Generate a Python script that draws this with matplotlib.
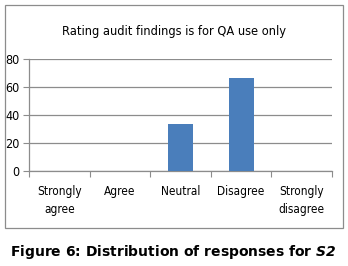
import numpy as np
import matplotlib.pyplot as plt
from matplotlib.patches import Rectangle

categories = ['Strongly\nagree', 'Agree', 'Neutral', 'Disagree', 'Strongly\ndisagree']
values = [0, 0, 33.33, 66.67, 0]
yticks = [0, 20, 40, 60, 80]

W, H = 348, 266
fig = plt.figure(figsize=(W / 100, H / 100), dpi=100)
cond = dict(fontfamily='DejaVu Sans', fontstretch='condensed')

# outer chart frame
fig.patches.append(Rectangle((5 / W, 1 - 228 / H), 338 / W, 223 / H,
                             transform=fig.transFigure, fill=False,
                             edgecolor='#8c8c8c', linewidth=0.9))

ax = fig.add_axes([29 / W, 1 - 171 / H, 303 / W, 112 / H])
x = np.arange(len(categories))
ax.bar(x, values, width=0.41, color='#4a7ebb', zorder=3)
ax.set_xlim(-0.5, len(categories) - 0.5)
ax.set_ylim(0, 80)
ax.set_yticks(yticks)
ax.set_yticklabels([str(t) for t in yticks], fontsize=9, **cond)
ax.yaxis.grid(True, color='#8c8c8c', linewidth=0.9, zorder=0)
ax.set_xticks(np.arange(-0.5, len(categories)))
ax.set_xticklabels([])
ax.set_xticks(x, minor=True)
ax.set_xticklabels(categories, minor=True, fontsize=8.5, linespacing=1.55, **cond)
ax.tick_params(axis='x', which='major', length=4, color='#8c8c8c', direction='out')
ax.tick_params(axis='x', which='minor', length=0, pad=10)
ax.tick_params(axis='y', length=4, color='#8c8c8c', pad=3)
for s in ['top', 'right']:
    ax.spines[s].set_visible(False)
for s in ['left', 'bottom']:
    ax.spines[s].set_color('#8c8c8c')
    ax.spines[s].set_linewidth(0.9)

fig.text(174 / W, 1 - 32 / H, 'Rating audit findings is for QA use only',
         ha='center', va='center', fontsize=9.2, **cond)

fig.text(173 / W, 1 - 252 / H, r'Figure 6: Distribution of responses for $\mathbfit{S2}$',
         ha='center', va='center', fontfamily='DejaVu Sans', fontweight='bold',
         fontsize=10)

fig.savefig('out.png', dpi=100)
